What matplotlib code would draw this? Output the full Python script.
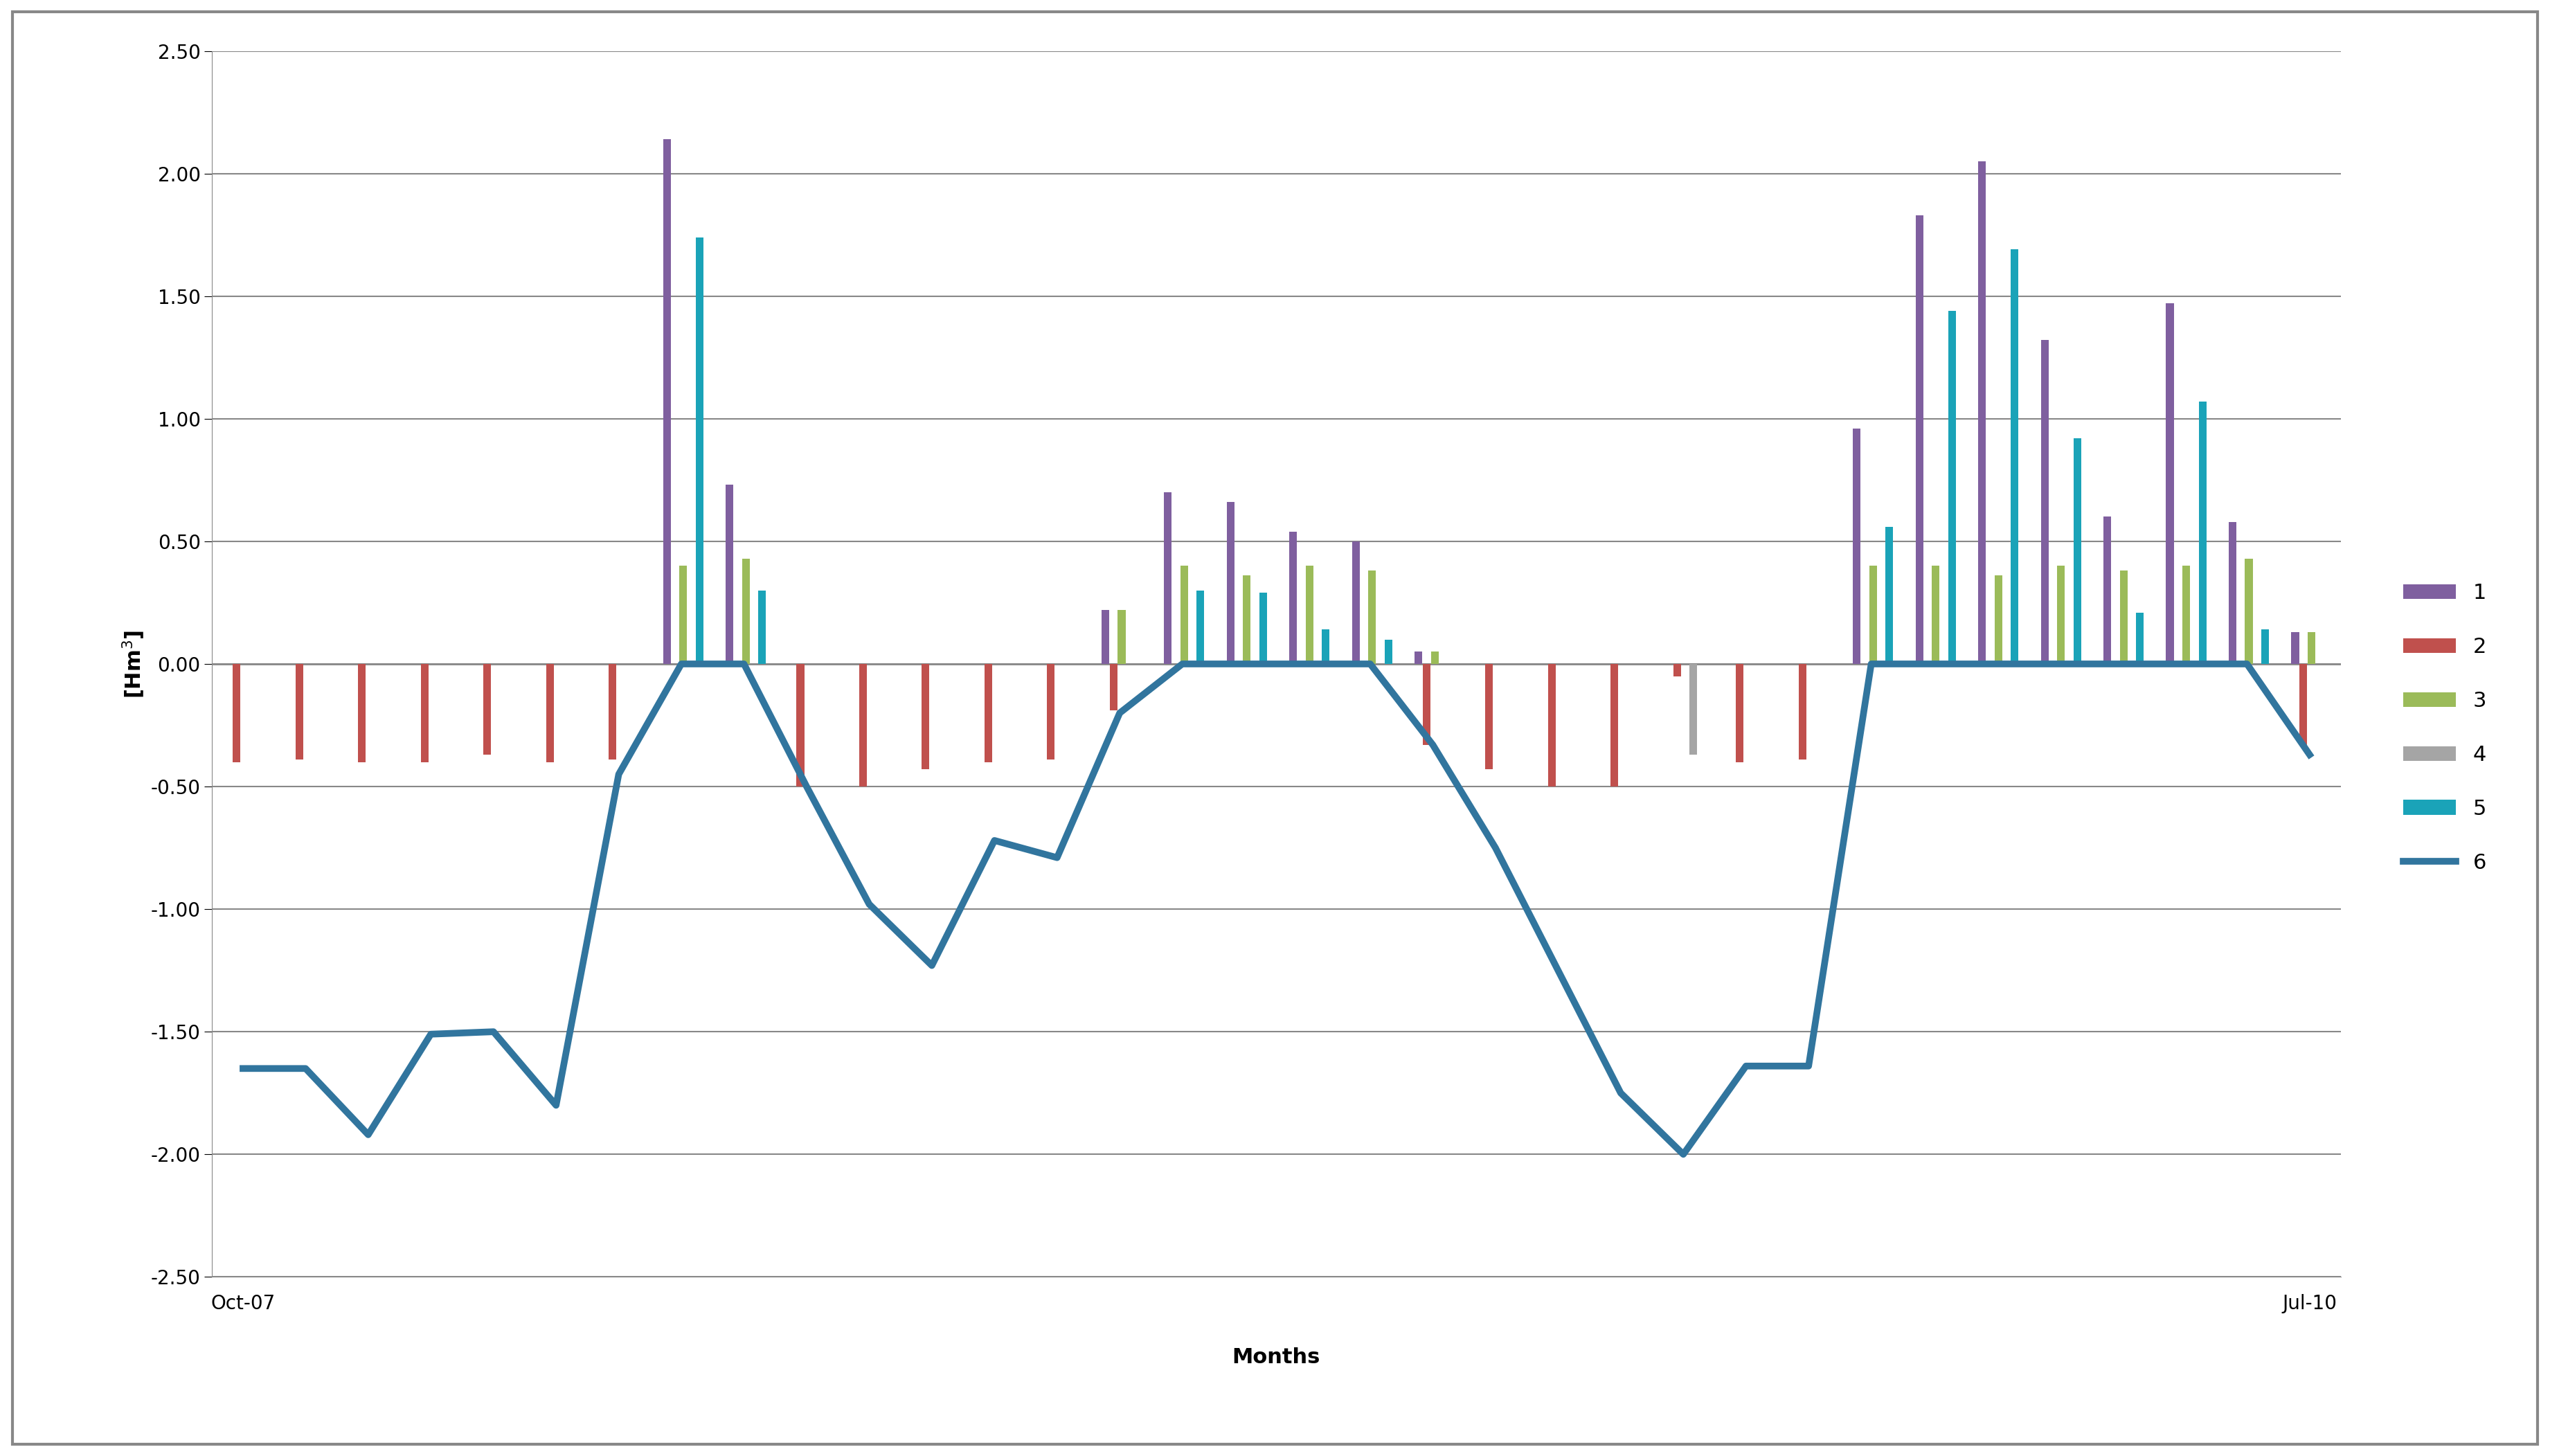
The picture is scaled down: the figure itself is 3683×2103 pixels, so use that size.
import matplotlib
matplotlib.use("Agg")
import matplotlib.pyplot as plt
import numpy as np

months = ["Oct-07","Nov-07","Dec-07","Jan-08","Feb-08","Mar-08","Apr-08","May-08","Jun-08","Jul-08","Aug-08","Sep-08",
          "Oct-08","Nov-08","Dec-08","Jan-09","Feb-09","Mar-09","Apr-09","May-09","Jun-09","Jul-09","Aug-09","Sep-09",
          "Oct-09","Nov-09","Dec-09","Jan-10","Feb-10","Mar-10","Apr-10","May-10","Jun-10","Jul-10"]
s1 = [0,0,0,0,0,0,0,2.14,0.73,0,0,0,0,0,0.22,0.70,0.66,0.54,0.50,0.05,0,0,0,0,0,0,0.96,1.83,2.05,1.32,0.60,1.47,0.58,0.13]
s2 = [-0.40,-0.39,-0.40,-0.40,-0.37,-0.40,-0.39,0,0,-0.50,-0.50,-0.43,-0.40,-0.39,-0.19,0,0,0,0,-0.33,-0.43,-0.50,-0.50,-0.05,-0.40,-0.39,0,0,0,0,0,0,0,-0.33]
s3 = [0,0,0,0,0,0,0,0.40,0.43,0,0,0,0,0,0.22,0.40,0.36,0.40,0.38,0.05,0,0,0,0,0,0,0.40,0.40,0.36,0.40,0.38,0.40,0.43,0.13]
s4 = [0]*23 + [-0.37] + [0]*10
s5 = [0,0,0,0,0,0,0,1.74,0.30,0,0,0,0,0,0,0.30,0.29,0.14,0.10,0,0,0,0,0,0,0,0.56,1.44,1.69,0.92,0.21,1.07,0.14,0]
s6 = [-1.65,-1.65,-1.92,-1.51,-1.50,-1.80,-0.45,0,0,-0.50,-0.98,-1.23,-0.72,-0.79,-0.20,0,0,0,0,-0.33,-0.75,-1.25,-1.75,-2.00,-1.64,-1.64,0,0,0,0,0,0,0,-0.37]

colors = ["#7F5F9F","#C0504D","#9BBB59","#A5A5A5","#1AA3B8"]
fig = plt.figure(figsize=(36.83,21.03), dpi=100)
ax = fig.add_axes([0.083,0.123,0.835,0.842])
x = np.arange(len(months))
w = 0.13
handles = []
for i,(s,c) in enumerate(zip([s1,s2,s3,s4,s5],colors)):
    handles.append(ax.bar(x+(i-2)*w+0.03, s, width=w*0.95, color=c, label=str(i+1), zorder=2))
ln, = ax.plot(x, s6, color="#31759E", lw=7, label="6", zorder=3)
handles.append(ln)
ax.set_xlim(-0.5, len(months)-0.5)
ax.set_ylim(-2.5,2.5)
ax.set_yticks(np.arange(-2.5,2.51,0.5))
ax.set_yticklabels([f"{v:.2f}" for v in np.arange(-2.5,2.51,0.5)], fontsize=20)
ax.set_xticks([0,len(months)-1])
ax.set_xticklabels([months[0],months[-1]], fontsize=20)
ax.tick_params(axis='x', which='major', length=0, pad=18)
ax.tick_params(axis='y', length=8)
ax.grid(axis='y', color='#888888', lw=1.5, zorder=0)
ax.axhline(0, color='#888888', lw=2, zorder=1)
for sp in ['top','right']:
    ax.spines[sp].set_visible(False)
ax.spines['left'].set_color('#888888'); ax.spines['bottom'].set_color('#888888')
ax.set_xlabel("Months", fontsize=22, fontweight='bold', labelpad=35)
ax.set_ylabel("[Hm$^3$]", fontsize=22, fontweight='bold')
fig.legend(handles=handles, labels=["1","2","3","4","5","6"], loc='center left', bbox_to_anchor=(0.935,0.5),
           frameon=False, fontsize=22, handlelength=2.5, labelspacing=1.6)
fig.add_artist(plt.Rectangle((0.005,0.008),0.99,0.984, transform=fig.transFigure, fill=False, ec='#888888', lw=3))
fig.savefig("out.png", dpi=100)
